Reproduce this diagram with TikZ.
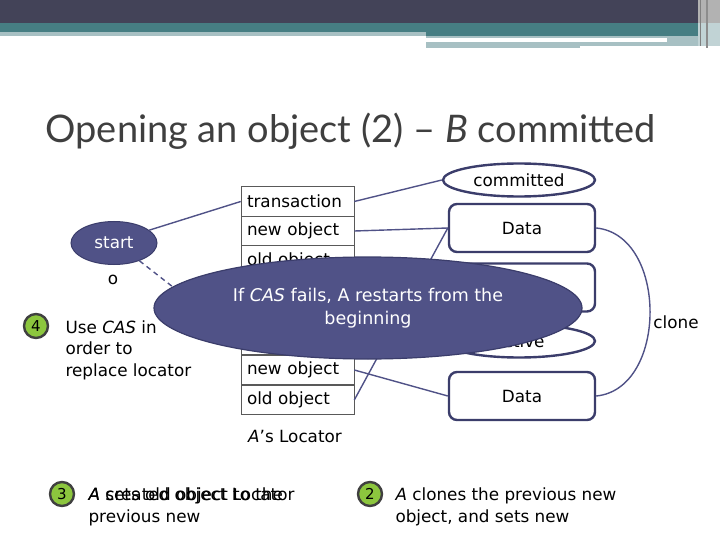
\documentclass[tikz,border=0pt]{standalone}
\usepackage{fontspec}
\setmainfont{DejaVu Sans}
\newfontfamily\titlefont{Lato}
\usetikzlibrary{shapes.geometric}
\definecolor{slate}{HTML}{505287}
\definecolor{slatedark}{HTML}{3B3D6B}
\definecolor{bandDark}{HTML}{434358}
\definecolor{bandTeal}{HTML}{467E83}
\definecolor{bandLight}{HTML}{A7C0C3}
\definecolor{greenc}{HTML}{8CC63E}
\definecolor{titlegray}{HTML}{3F3F3F}
\begin{document}
\begin{tikzpicture}[x=1pt,y=-1pt,
  body/.style={font=\fontsize{16.8}{21.7}\selectfont},
  cell/.style={draw=black!65, line width=0.6pt, rectangle, text width=101pt, inner xsep=6pt, inner ysep=0pt, minimum height=29.5pt, align=left, body, fill=white},
  oval/.style={ellipse, draw=slatedark, line width=2.4pt, fill=white, minimum width=152pt, minimum height=33pt, inner sep=0pt, body},
  databox/.style={rectangle, rounded corners=8pt, draw=slatedark, line width=2.4pt, fill=white, minimum width=146pt, minimum height=48pt, body},
  conn/.style={draw=slate, line width=1.4pt},
  num/.style={circle, fill=greenc, draw=black!75, line width=2.4pt, minimum size=24pt, inner sep=0pt, font=\fontsize{15}{15}\selectfont}]
\useasboundingbox (0,0) rectangle (720,540);
% top band
\fill[bandDark] (0,0) rectangle (720,23);
\fill[bandTeal] (0,23) rectangle (698,32);
\fill[bandTeal] (426,32) rectangle (698,36);
\fill[bandLight] (0,32) rectangle (426,36);
\fill[bandLight] (426,36) rectangle (667,38);
\fill[bandLight] (426,42) rectangle (580,48);
\fill[bandLight] (580,42) rectangle (667,46);
\fill[bandLight] (667,36) rectangle (698,46);
\fill[black!30] (698,0) rectangle (720,23);
\fill[bandLight!70] (698,23) rectangle (720,46);
\draw[black!50, line width=1pt] (700,0) -- (700,46);
\draw[black!45, line width=1.5pt] (707,0) -- (707,48);
% title
\node[font=\titlefont\fontsize{38}{44}\selectfont, text=titlegray, anchor=west] (title) at (42,131) {Opening an object (2) – \textit{B} committed};
% locators
\node[cell] (b1) at (297.5,201.5) {transaction};
\node[cell] (b2) at (297.5,231) {new object};
\node[cell] (b3) at (297.5,260.5) {old object};
\node[cell] (a1) at (297.5,340) {transaction};
\node[cell] (a2) at (297.5,370) {new object};
\node[cell] (a3) at (297.5,400) {old object};
\node[body, anchor=center] (alabel) at (295,436) {\textit{A}’s Locator};
% start
\node[ellipse, fill=slate, draw=slatedark, line width=1pt, minimum width=86pt, minimum height=43pt, text=white, body] (start) at (114,243) {start};
\node[body] (o) at (113,280) {o};
% right nodes
\node[oval] (committed) at (519,180) {committed};
\node[databox] (data1) at (522,228) {Data};
\node[databox] (data2) at (522,287.5) {Data};
\node[oval] (active) at (519,341) {active};
\node[databox] (data3) at (522,396) {Data};
% connectors
\draw[conn] (start.20) -- (b1.west);
\draw[conn, dashed, dash pattern=on 5pt off 4pt] (start.-35) -- (a1.west);
\draw[conn] (b1.east) -- (committed.west);
\draw[conn] (b2.east) -- (data1.west);
\draw[conn] (b3.east) -- (data2.west);
\draw[conn] (a1.east) -- (active.west);
\draw[conn] (a2.east) -- (data3.west);
\draw[conn] (a3.east) -- (data1.west);
\draw[conn] (data1.east) .. controls (668,235) and (668,389) .. (data3.east);
\node[body] (clone) at (676,322) {clone};
% numbered notes
\node[num] (n4) at (36,326) {4};
\node[body, anchor=north west, align=left] (t4) at (62,317) {Use \textit{CAS} in\\order to\\replace locator};
\node[num] (n3) at (62,494) {3};
\node[body, anchor=north west, align=left] (t3a) at (85,484) {\textit{A} sets old object to the\\previous new};
\node[body, anchor=north west, align=left] (t3b) at (85,484) {\textit{A} created object Locator};
\node[num] (n2) at (370,494) {2};
\node[body, anchor=north west, align=left] (t2) at (392,484) {\textit{A} clones the previous new\\object, and sets new};
% big callout ellipse
\node[ellipse, fill=slate, draw=slatedark, line width=1.2pt, minimum width=428pt, minimum height=102pt, inner sep=0pt, text=white, align=center, font=\fontsize{17.5}{23}\selectfont] (cas) at (368,308) {If \textit{CAS} fails, A restarts from the\\beginning};
\end{tikzpicture}
\end{document}
